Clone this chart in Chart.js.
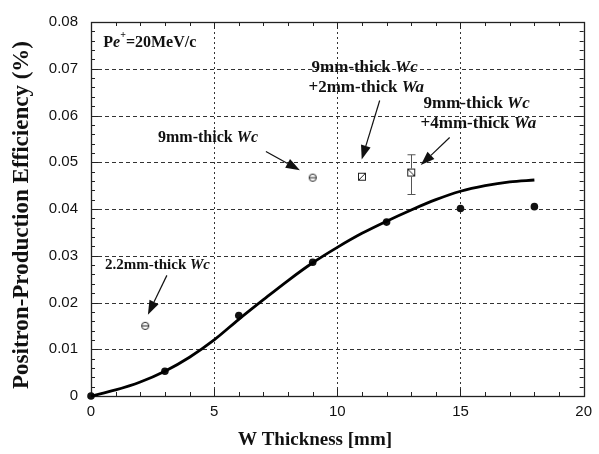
<!DOCTYPE html>
<html>
<head>
<meta charset="utf-8">
<script src="https://cdn.jsdelivr.net/npm/chart.js@4.4.1/dist/chart.umd.min.js"></script>
<style>
  html, body { margin: 0; padding: 0; background: #fff; }
</style>
</head>
<body>
<canvas id="chart" width="599" height="454"></canvas>
<script>
// ---------------------------------------------------------------------------
// Data
// ---------------------------------------------------------------------------
const curveX = [0, 1, 2, 3, 4, 5, 6, 7, 8, 9, 10, 11, 12, 13, 14, 15, 16, 17, 18];
const curveY = [0, 0.0013, 0.0030, 0.0053, 0.0083, 0.0120, 0.0164, 0.0206, 0.0247, 0.0285,
  0.0318, 0.0348, 0.0374, 0.0398, 0.0420, 0.0438, 0.0450, 0.0458, 0.0462];

const measX = [0, 3, 6, 9, 12, 15, 18];
const measY = [0, 0.0053, 0.0172, 0.0286, 0.0372, 0.0401, 0.0405];

const circX = [2.2, 9];
const circY = [0.0150, 0.0467];

const slashX = [11];
const slashY = [0.0469];

const backX = [13];
const backY = [0.0478];
const backLo = [0.0431];
const backHi = [0.0516];

const xTicks = [0, 5, 10, 15, 20];
const yTicks = [0, 0.01, 0.02, 0.03, 0.04, 0.05, 0.06, 0.07, 0.08];

const xTitle = 'W Thickness [mm]';
const yTitle = 'Positron-Production Efficiency (%)';

// Labels: lines of [text, style] parts (0 upright, 1 italic, 2 superscript),
// placed in data coordinates
const notes = [
  { x: 0.5, y: 0.0756, size: 16, lines: [[['P', 0], ['e', 1], ['+', 2], ['=20MeV/c', 0]]] },
  { x: 2.72, y: 0.0553, size: 16, lines: [[['9mm-thick ', 0], ['Wc', 1]]],
    arrow: [7.1, 0.0523, 8.48, 0.0483] },
  { x: 8.95, y: 0.0702, size: 17, lines: [[['9mm-thick ', 0], ['Wc', 1]], [['+2mm-thick ', 0], ['Wa', 1]]],
    arrow: [11.72, 0.0632, 10.99, 0.0506] },
  { x: 13.5, y: 0.0625, size: 17, lines: [[['9mm-thick ', 0], ['Wc', 1]], [['+4mm-thick ', 0], ['Wa', 1]]],
    arrow: [14.56, 0.0553, 13.39, 0.0494] },
  { x: 0.57, y: 0.0279, size: 15, lines: [[['2.2mm-thick ', 0], ['Wc', 1]]],
    arrow: [3.08, 0.0258, 2.31, 0.0174] },
];

const pts = (xs, ys) => xs.map((x, i) => ({ x, y: ys[i] }));

// ---------------------------------------------------------------------------
// Marker images
// ---------------------------------------------------------------------------
function markerTheta() {
  const c = document.createElement('canvas');
  c.width = 10; c.height = 10;
  const g = c.getContext('2d');
  g.strokeStyle = '#222'; g.lineWidth = 1;
  g.beginPath(); g.arc(5, 5, 3.6, 0, Math.PI * 2); g.stroke();
  g.beginPath(); g.moveTo(2, 5); g.lineTo(8, 5); g.stroke();
  return c;
}

function markerSquare(slash) {
  const c = document.createElement('canvas');
  c.width = 10; c.height = 10;
  const g = c.getContext('2d');
  g.strokeStyle = '#222'; g.lineWidth = 1;
  g.strokeRect(1.5, 1.5, 7, 7);
  g.beginPath();
  if (slash) { g.moveTo(1.5, 8.5); g.lineTo(8.5, 1.5); } else { g.moveTo(1.5, 1.5); g.lineTo(8.5, 8.5); }
  g.stroke();
  return c;
}

// ---------------------------------------------------------------------------
// Frame, grid and inward ticks
// ---------------------------------------------------------------------------
const framePlugin = {
  id: 'frame',
  beforeDatasetsDraw(chart) {
    const { ctx, chartArea: a, scales: { x, y } } = chart;
    ctx.save();
    ctx.strokeStyle = '#333';
    ctx.lineWidth = 1;

    ctx.setLineDash([2, 3]);
    for (const v of xTicks.slice(1, -1)) {
      const px = Math.round(x.getPixelForValue(v)) + 0.5;
      ctx.beginPath(); ctx.moveTo(px, a.top); ctx.lineTo(px, a.bottom); ctx.stroke();
    }
    ctx.setLineDash([4, 3]);
    for (const v of yTicks.slice(1, -1)) {
      const py = Math.round(y.getPixelForValue(v)) + 0.5;
      ctx.beginPath(); ctx.moveTo(a.left, py); ctx.lineTo(a.right, py); ctx.stroke();
    }
    ctx.setLineDash([]);

    ctx.strokeStyle = '#222';
    for (let k = 0; k <= 20; k++) {
      const len = k % 5 === 0 ? 7 : 4;
      const px = Math.round(x.getPixelForValue(k)) + 0.5;
      ctx.beginPath();
      ctx.moveTo(px, a.bottom); ctx.lineTo(px, a.bottom - len);
      ctx.moveTo(px, a.top); ctx.lineTo(px, a.top + len);
      ctx.stroke();
    }
    for (let k = 0; k <= 40; k++) {
      const len = k % 5 === 0 ? 7 : 4;
      const py = Math.round(y.getPixelForValue(k * 0.002)) + 0.5;
      ctx.beginPath();
      ctx.moveTo(a.left, py); ctx.lineTo(a.left + len, py);
      ctx.moveTo(a.right, py); ctx.lineTo(a.right - len, py);
      ctx.stroke();
    }
    ctx.lineWidth = 1.3;
    ctx.strokeRect(Math.round(a.left) + 0.5, Math.round(a.top) + 0.5,
      Math.round(a.right - a.left), Math.round(a.bottom - a.top));
    ctx.restore();
  },
};

// ---------------------------------------------------------------------------
// Error bar, labels, arrows, axis titles
// ---------------------------------------------------------------------------
function drawParts(ctx, parts, x, y, size) {
  let cx = x;
  for (const [t, style] of parts) {
    if (style === 2) {
      ctx.font = `bold ${Math.round(size * 0.65)}px "Liberation Serif"`;
      ctx.fillText(t, cx, y - size * 0.42);
    } else {
      ctx.font = `${style ? 'italic ' : ''}bold ${size}px "Liberation Serif"`;
      ctx.fillText(t, cx, y);
    }
    cx += ctx.measureText(t).width;
  }
}

function drawArrow(ctx, x1, y1, x2, y2) {
  const ang = Math.atan2(y2 - y1, x2 - x1);
  const hl = 14, hw = 5;
  const bx = x2 - hl * Math.cos(ang), by = y2 - hl * Math.sin(ang);
  ctx.beginPath(); ctx.moveTo(x1, y1); ctx.lineTo(bx, by); ctx.stroke();
  ctx.beginPath();
  ctx.moveTo(x2, y2);
  ctx.lineTo(bx + hw * Math.sin(ang), by - hw * Math.cos(ang));
  ctx.lineTo(bx - hw * Math.sin(ang), by + hw * Math.cos(ang));
  ctx.closePath(); ctx.fill();
}

const notesPlugin = {
  id: 'notes',
  afterDatasetsDraw(chart) {
    const { ctx, scales: { x, y } } = chart;
    ctx.save();

    ctx.strokeStyle = '#555'; ctx.lineWidth = 1;
    backX.forEach((v, i) => {
      const px = Math.round(x.getPixelForValue(v)) + 0.5;
      const lo = y.getPixelForValue(backLo[i]), hi = y.getPixelForValue(backHi[i]);
      const m = y.getPixelForValue(backY[i]);
      ctx.beginPath();
      ctx.moveTo(px, hi); ctx.lineTo(px, m - 4);
      ctx.moveTo(px, m + 4); ctx.lineTo(px, lo);
      ctx.moveTo(px - 4, hi); ctx.lineTo(px + 4, hi);
      ctx.moveTo(px - 4, lo); ctx.lineTo(px + 4, lo);
      ctx.stroke();
    });

    ctx.fillStyle = '#111'; ctx.strokeStyle = '#111';
    ctx.textBaseline = 'middle'; ctx.textAlign = 'left';
    for (const n of notes) {
      const px = x.getPixelForValue(n.x), py = y.getPixelForValue(n.y);
      n.lines.forEach((parts, i) => drawParts(ctx, parts, px - (i ? 3 : 0), py + i * 20, n.size));
      if (n.arrow) {
        const [ax, ay, bx, by] = n.arrow;
        ctx.lineWidth = 1.2;
        drawArrow(ctx, x.getPixelForValue(ax), y.getPixelForValue(ay),
          x.getPixelForValue(bx), y.getPixelForValue(by));
      }
    }

    ctx.fillStyle = '#111';
    ctx.textAlign = 'center';
    ctx.font = 'bold 19px "Liberation Serif"';
    ctx.fillText(xTitle, 315, 440);
    ctx.save();
    ctx.translate(22, 215);
    ctx.rotate(-Math.PI / 2);
    ctx.font = 'bold 23px "Liberation Serif"';
    ctx.fillText(yTitle, 0, 0);
    ctx.restore();

    ctx.restore();
  },
};

// ---------------------------------------------------------------------------
// Chart
// ---------------------------------------------------------------------------
const tickFont = { family: '"Liberation Sans", Arial, sans-serif', size: 15 };

new Chart(document.getElementById('chart'), {
  type: 'scatter',
  data: {
    datasets: [
      {
        label: 'simulation',
        data: pts(curveX, curveY),
        showLine: true,
        borderColor: '#000',
        borderWidth: 2.8,
        pointRadius: 0,
        cubicInterpolationMode: 'monotone',
        clip: false,
      },
      {
        label: 'measured',
        data: pts(measX, measY),
        pointRadius: 3.8,
        backgroundColor: '#111',
        borderColor: '#111',
        borderWidth: 0,
        clip: false,
      },
      {
        label: 'Wc only',
        data: pts(circX, circY),
        pointStyle: markerTheta(),
      },
      {
        label: 'Wc + 2mm Wa',
        data: pts(slashX, slashY),
        pointStyle: markerSquare(true),
      },
      {
        label: 'Wc + 4mm Wa',
        data: pts(backX, backY),
        pointStyle: markerSquare(false),
      },
    ],
  },
  options: {
    responsive: false,
    animation: false,
    events: [],
    layout: { padding: { top: 14, right: 15, left: 0, bottom: 0 } },
    plugins: {
      legend: { display: false },
      tooltip: { enabled: false },
    },
    scales: {
      x: {
        type: 'linear',
        min: 0,
        max: 20,
        afterFit: (s) => { s.height = 58; },
        afterBuildTicks: (s) => { s.ticks = xTicks.map((v) => ({ value: v })); },
        grid: { display: false, drawTicks: false },
        border: { display: false },
        ticks: { color: '#111', font: tickFont, padding: 7, maxRotation: 0 },
      },
      y: {
        type: 'linear',
        min: 0,
        max: 0.08,
        afterFit: (s) => { s.width = 91; },
        afterBuildTicks: (s) => { s.ticks = yTicks.map((v) => ({ value: v })); },
        grid: { display: false, drawTicks: false },
        border: { display: false },
        ticks: {
          color: '#111',
          font: tickFont,
          padding: 13,
          callback: (v) => (v === 0 ? '0' : v.toFixed(2)),
        },
      },
    },
  },
  plugins: [framePlugin, notesPlugin],
});
</script>
</body>
</html>
